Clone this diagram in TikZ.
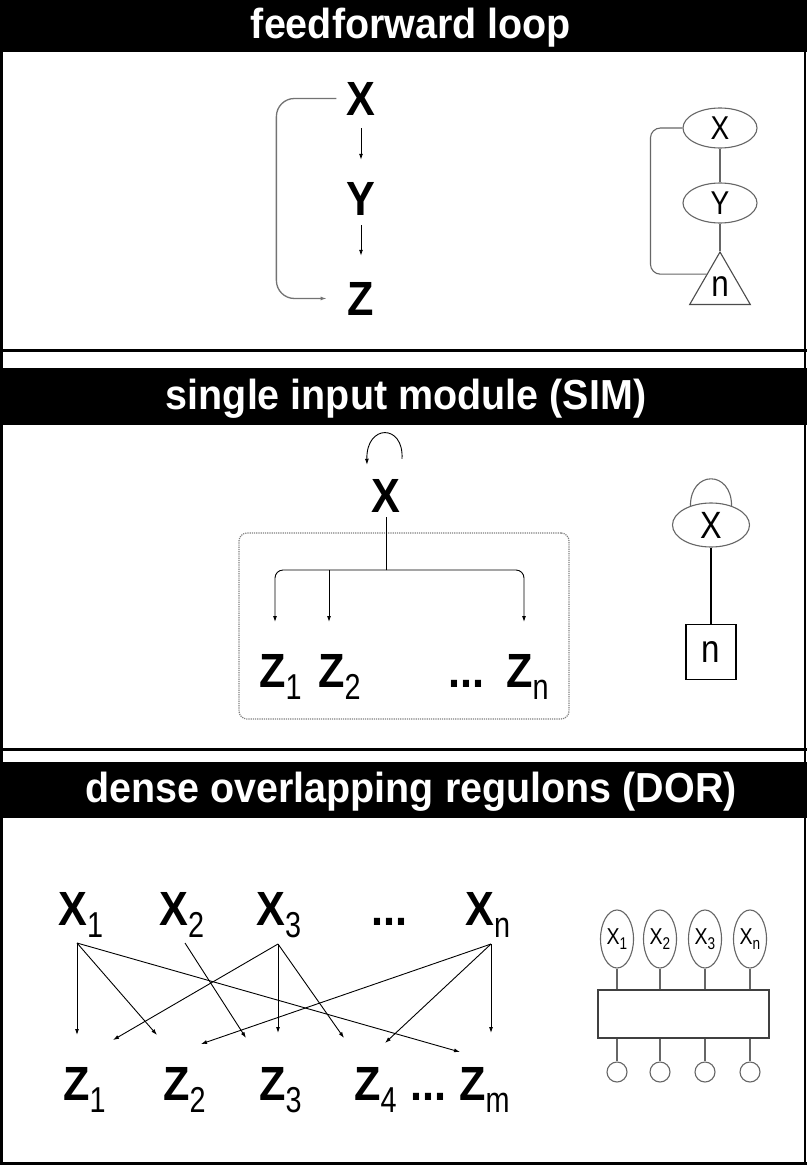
\documentclass[tikz,border=0pt]{standalone}
\usepackage{fontspec}
\setmainfont{Liberation Sans}
\newfontfamily\narrowfont[FakeStretch=0.8]{Liberation Sans}
\newfontfamily\labfont[FakeStretch=0.9]{Liberation Sans}
\newfontfamily\iconfont[FakeStretch=0.85]{Liberation Sans}
\newfontfamily\ttlfont[FakeStretch=0.94]{Liberation Sans}
\usetikzlibrary{arrows.meta,shapes.geometric,calc}
\newcommand{\sbs}[1]{\raisebox{-12pt}{\fontsize{36}{36}\selectfont\narrowfont\mdseries #1}}
\newcommand{\ssb}[1]{\raisebox{-5pt}{\fontsize{17}{17}\selectfont\narrowfont\mdseries #1}}
\tikzset{
  lab/.style={inner sep=0pt, font=\fontsize{48}{48}\selectfont\labfont\bfseries},
  ttl/.style={inner sep=0pt, text=white, font=\fontsize{42}{42}\selectfont\ttlfont\bfseries, anchor=base},
  arr/.style={-{Latex[length=6pt,width=4pt]}, line width=0.9pt},
  graybr/.style={draw=black!55, line width=1.3pt, -{Latex[length=6pt,width=4pt]}},
  icon/.style={draw=black!60, line width=1.1pt},
  ell/.style={ellipse, draw=black!60, line width=1.1pt, inner sep=0pt},
  vell/.style={ellipse, draw=black!60, line width=1.1pt, inner sep=0pt, minimum width=33pt, minimum height=58pt, font=\fontsize{23}{23}\selectfont\iconfont},
  smallc/.style={circle, draw=black!60, line width=1.1pt, minimum size=20pt, inner sep=0pt}
}
\begin{document}
\begin{tikzpicture}[x=1pt,y=-1pt]
\useasboundingbox (0,0) rectangle (807,1167);
\fill[white] (0,0) rectangle (807,1167);
% title bands
\fill[black] (0,0) rectangle (807,52);
\fill[black] (0,368) rectangle (807,425);
\fill[black] (0,762) rectangle (807,818);
% frame
\draw[line width=3pt] (1.5,0) -- (1.5,1165);
\draw[line width=2pt] (805,0) -- (805,1165);
\draw[line width=3pt] (0,350) -- (807,350);
\draw[line width=3pt] (0,749) -- (807,749);
\draw[line width=3pt] (0,1163.5) -- (807,1163.5);
% titles
\node[ttl] (t1) at (411,38) {feedforward loop};
\node[ttl] (t2) at (406,409) {single input module (SIM)};
\node[ttl] (t3) at (411,802) {dense overlapping regulons (DOR)};

% ---------- feedforward loop ----------
\node[lab, anchor=base] (ffx) at (361,115) {X};
\node[lab, anchor=base] (ffy) at (361,215) {Y};
\node[lab, anchor=base] (ffz) at (361,315) {Z};
\draw[arr] ([yshift=-13pt]ffx.south) -- ([yshift=22pt]ffy.north);
\draw[arr] ([yshift=-10pt]ffy.south) -- ([yshift=26pt]ffz.north);
\draw[graybr, rounded corners=18pt] ([xshift=-10pt]ffx.west) -- ++(-60,0) |- ([xshift=-21pt]ffz.west);

\node[ell, minimum width=74pt, minimum height=40pt, font=\fontsize{33}{33}\selectfont\iconfont] (fx) at (720,128) {X};
\node[ell, minimum width=74pt, minimum height=40pt, font=\fontsize{33}{33}\selectfont\iconfont] (fy) at (720,203) {Y};
\node[regular polygon, regular polygon sides=3, draw=black!70, line width=1.1pt, minimum size=70pt, inner sep=0pt, font=\fontsize{37}{37}\selectfont\iconfont] (ftri) at (720,287) {n};
\draw[icon] (fx.south) -- (fy.north);
\draw[icon] (fy.south) -- (ftri.corner 1);
\draw[icon, rounded corners=10pt] (fx.west) -- ++(-32,0) |- ($(ftri.corner 1)!0.43!(ftri.corner 2)$);

% ---------- single input module ----------
\node[draw=black!50, densely dotted, line width=1.2pt, rounded corners=8pt, minimum width=330pt, minimum height=186pt, inner sep=0pt] (sbox) at (404,626) {};
\node[lab, anchor=base] (sx) at (386,512) {X};
\draw[arr] ([xshift=16pt,yshift=20pt]sx.north) .. controls +(2,-35) and +(-1,-41) .. ([xshift=-19pt,yshift=14pt]sx.north);
\coordinate (br) at (386,570);
\draw[line width=0.9pt] ([yshift=-5pt]sx.south) -- (br);
\node[lab, anchor=base west] (sz1) at (259,687) {Z\sbs{1}};
\node[lab, anchor=base west] (sz2) at (318,687) {Z\sbs{2}};
\node[lab, anchor=base west] (sdots) at (448,687) {...};
\node[lab, anchor=base west] (szn) at (506,687) {Z\sbs{n}};
\coordinate (st1) at ([xshift=16pt,yshift=65pt]sz1.base west);
\coordinate (st2) at ([xshift=11pt,yshift=65pt]sz2.base west);
\coordinate (stn) at ([xshift=18pt,yshift=65pt]szn.base west);
\draw[arr, rounded corners=8pt] (br) -| (st1);
\draw[arr, rounded corners=8pt] (br) -| (stn);
\draw[arr] (st2 |- br) -- (st2);

\node[ell, minimum width=77pt, minimum height=44pt, font=\fontsize{38}{38}\selectfont\iconfont] (six) at (711,525) {X};
\draw[icon] (six.137) .. controls +(0,-36) and +(0,-36) .. (six.43);
\node[draw=black, line width=1.1pt, minimum width=50pt, minimum height=55pt, inner sep=0pt, font=\fontsize{39}{39}\selectfont\iconfont] (sn) at (711,652) {n};
\draw[line width=1.1pt] (six.south) -- (sn.north);

% ---------- dense overlapping regulons ----------
\node[lab, anchor=base west] (dx1) at (58,925) {X\sbs{1}};
\node[lab, anchor=base west] (dx2) at (159,925) {X\sbs{2}};
\node[lab, anchor=base west] (dx3) at (256,925) {X\sbs{3}};
\node[lab, anchor=base west] (ddx) at (371,925) {...};
\node[lab, anchor=base west] (dxn) at (465,925) {X\sbs{n}};
\node[lab, anchor=base west] (dz1) at (63,1100) {Z\sbs{1}};
\node[lab, anchor=base west] (dz2) at (163,1100) {Z\sbs{2}};
\node[lab, anchor=base west] (dz3) at (259,1100) {Z\sbs{3}};
\node[lab, anchor=base west] (dz4) at (354,1100) {Z\sbs{4}};
\node[lab, anchor=base west] (ddz) at (410,1100) {...};
\node[lab, anchor=base west] (dzm) at (459,1100) {Z\sbs{m}};

\coordinate (s1) at ([xshift=19pt,yshift=-18pt]dx1.base west);
\coordinate (s2) at ([xshift=26pt,yshift=-18pt]dx2.base west);
\coordinate (s3) at ([xshift=22pt,yshift=-19pt]dx3.base west);
\coordinate (sN) at ([xshift=26pt,yshift=-19pt]dxn.base west);

\draw[arr] (s1) -- ([xshift=14pt,yshift=65pt]dz1.base west);
\draw[arr] (s1) -- ([xshift=-6pt,yshift=65pt]dz2.base west);
\draw[arr] (s1) -- ([xshift=1pt,yshift=48pt]dzm.base west);
\draw[arr] (s2) -- ([xshift=-13pt,yshift=62pt]dz3.base west);
\draw[arr] (s3) -- ([xshift=50pt,yshift=60pt]dz1.base west);
\draw[arr] (s3) -- ([xshift=19pt,yshift=67pt]dz3.base west);
\draw[arr] (s3) -- ([xshift=-10pt,yshift=62pt]dz4.base west);
\draw[arr] (sN) -- ([xshift=38pt,yshift=56pt]dz2.base west);
\draw[arr] (sN) -- ([xshift=31pt,yshift=57pt]dz4.base west);
\draw[arr] (sN) -- ([xshift=32pt,yshift=67pt]dzm.base west);

\node[vell] (e1) at (617,939) {X\ssb{1}};
\node[vell] (e2) at (660,939) {X\ssb{2}};
\node[vell] (e3) at (705,939) {X\ssb{3}};
\node[vell] (e4) at (750,939) {X\ssb{n}};
\node[draw=black!75, line width=1.4pt, minimum width=171pt, minimum height=48pt, inner sep=0pt] (dbox) at (683.5,1014) {};
\node[smallc] (c1) at (617,1072) {};
\node[smallc] (c2) at (660,1072) {};
\node[smallc] (c3) at (705,1072) {};
\node[smallc] (c4) at (750,1072) {};
\foreach \i in {1,2,3,4} {
  \draw[icon] (e\i.south) -- (e\i.south |- dbox.north);
  \draw[icon] (c\i |- dbox.south) -- (c\i.north);
}
\end{tikzpicture}
\end{document}
